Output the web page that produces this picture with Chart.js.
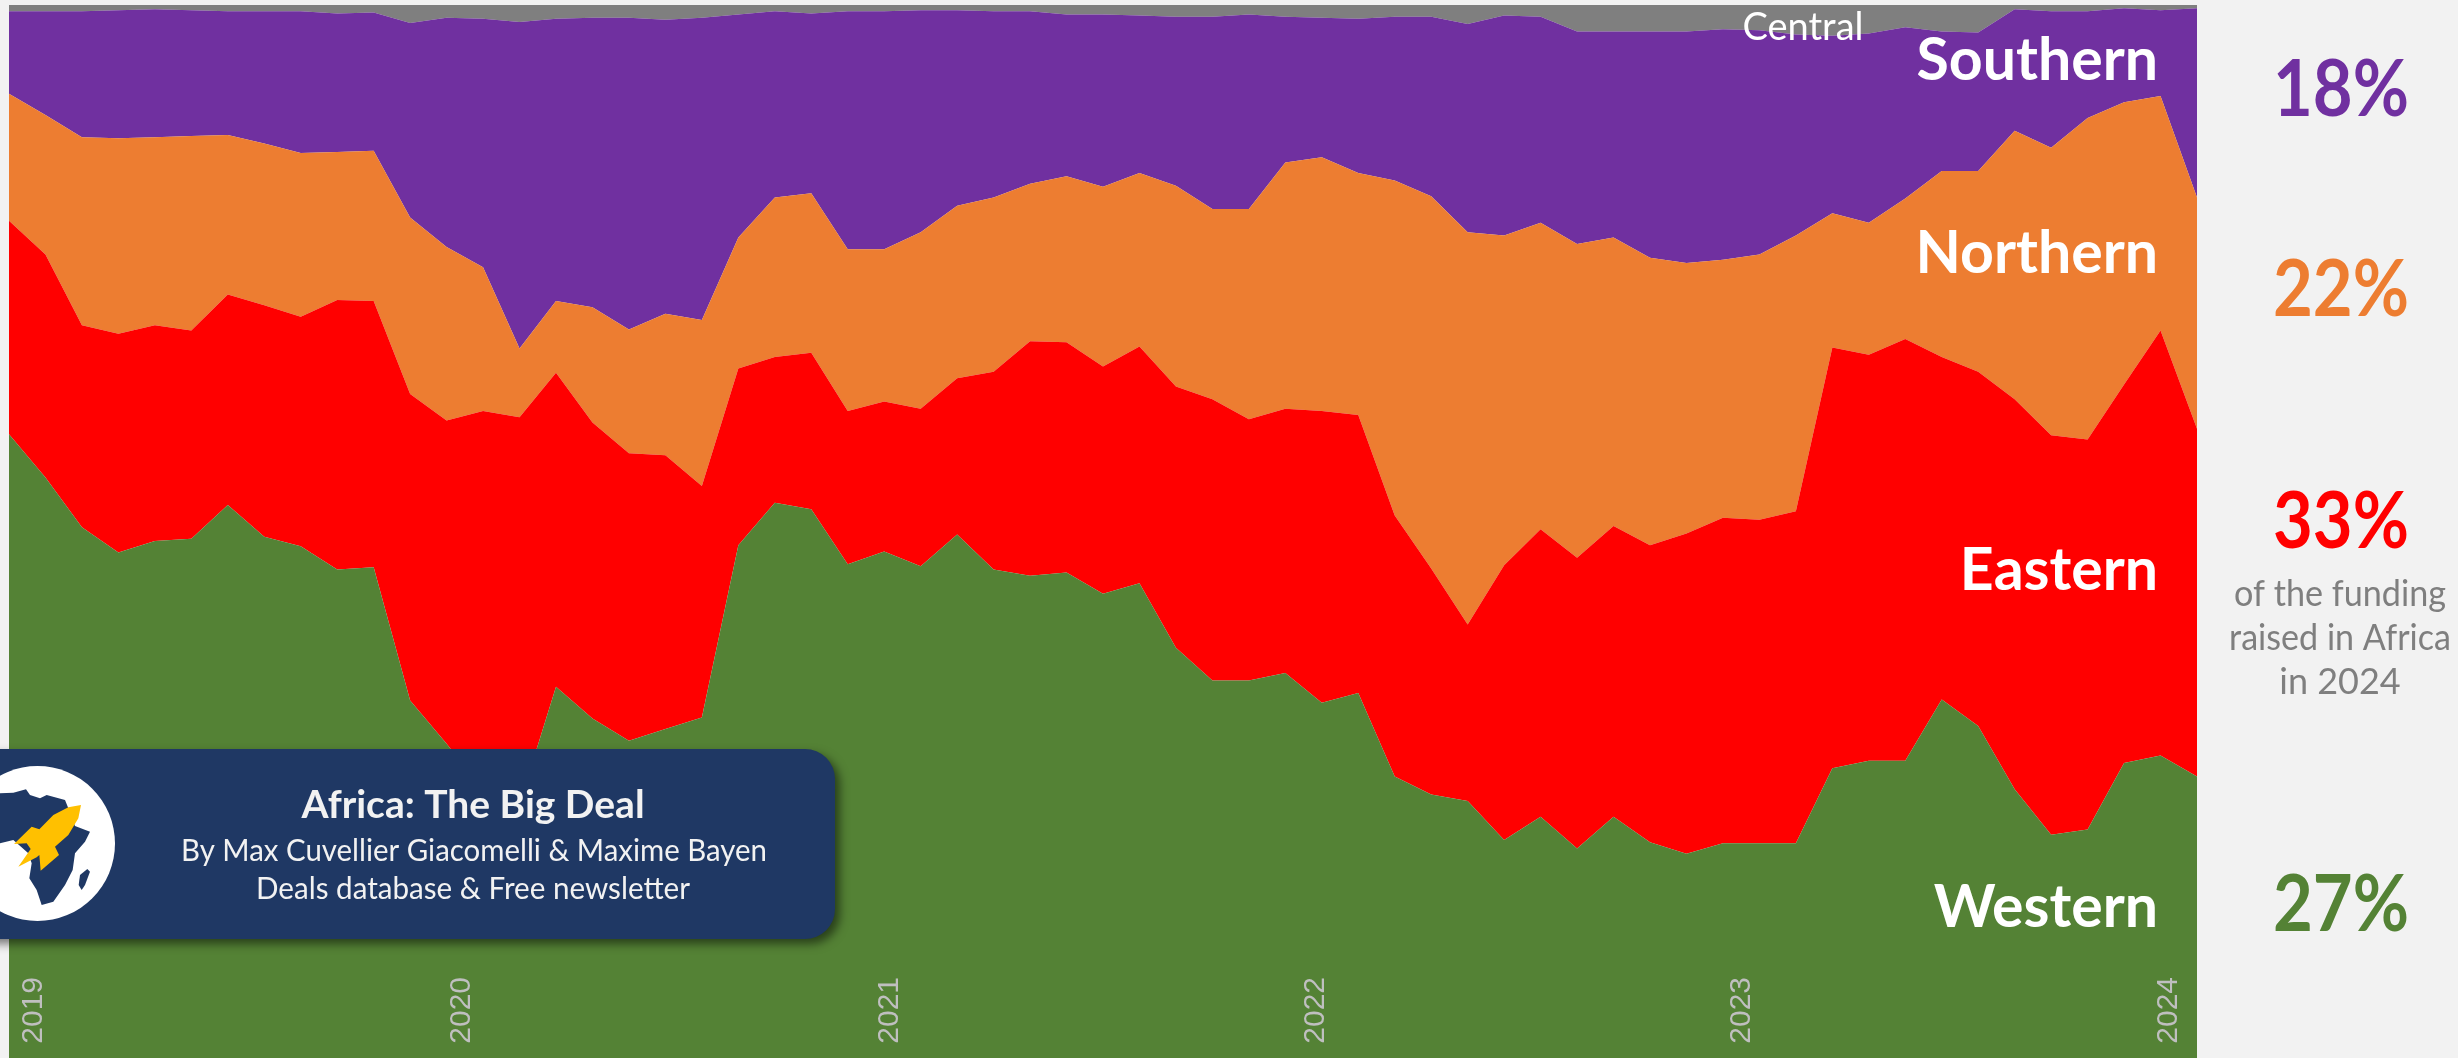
<!DOCTYPE html>
<html>
<head>
<meta charset="utf-8">
<title>Africa: The Big Deal</title>
<script src="https://cdn.jsdelivr.net/npm/chart.js@4"></script>
<style>
  html, body { margin: 0; padding: 0; background: #F2F2F2; overflow: hidden; }
  canvas { display: block; }
</style>
</head>
<body>
<canvas id="chart" width="2458" height="1058"></canvas>
<script>
// months from Jan 2019 to Jan 2024
const months = [
  '2019-01','2019-02','2019-03','2019-04','2019-05','2019-06','2019-07','2019-08','2019-09','2019-10','2019-11','2019-12',
  '2020-01','2020-02','2020-03','2020-04','2020-05','2020-06','2020-07','2020-08','2020-09','2020-10','2020-11','2020-12',
  '2021-01','2021-02','2021-03','2021-04','2021-05','2021-06','2021-07','2021-08','2021-09','2021-10','2021-11','2021-12',
  '2022-01','2022-02','2022-03','2022-04','2022-05','2022-06','2022-07','2022-08','2022-09','2022-10','2022-11','2022-12',
  '2023-01','2023-02','2023-03','2023-04','2023-05','2023-06','2023-07','2023-08','2023-09','2023-10','2023-11','2023-12',
  '2024-01'
];

// share of funding per region, %
const western = [59.4,55.3,50.6,48.2,49.3,49.5,52.7,49.7,48.8,46.6,46.8,34.2,30.1,25.7,24.4,35.5,32.5,30.4,31.5,32.6,48.9,52.9,52.3,47.1,48.3,46.9,49.9,46.6,46.0,46.3,44.3,45.3,39.2,36.1,36.1,36.8,34.0,34.9,27.0,25.3,24.7,21.0,23.2,20.2,23.2,20.8,19.7,20.7,20.7,20.7,27.8,28.5,28.5,34.3,31.8,25.8,21.5,22.0,28.3,29.0,27.0];
const eastern = [20.2,21.1,19.1,20.7,20.4,19.7,19.9,21.9,21.7,25.5,25.2,29.0,30.6,35.9,36.6,29.7,28.0,27.2,25.9,21.9,16.7,13.8,14.8,14.5,14.2,14.9,14.8,18.7,22.2,21.8,21.5,22.4,24.7,26.6,24.7,25.0,27.6,26.3,24.7,21.4,16.7,26.0,27.2,27.5,27.5,28.1,30.3,30.8,30.6,31.4,39.8,38.4,39.9,32.4,33.5,36.9,37.8,36.9,35.8,40.2,32.9];
const northern = [12.0,13.2,17.8,18.5,17.8,18.4,15.1,15.3,15.5,14.0,14.2,16.7,16.4,13.6,6.5,6.8,10.9,11.7,13.4,15.7,12.4,15.1,15.1,15.3,14.4,16.7,16.3,16.5,14.9,15.7,17.0,16.4,19.0,18.0,19.9,23.3,24.0,22.9,31.7,35.2,37.1,31.2,29.0,29.7,27.3,27.2,25.6,24.4,25.1,26.1,12.7,12.5,13.3,17.6,19.0,25.4,27.2,30.4,26.7,22.2,21.9];
const southern = [7.8,9.8,11.9,12.1,12.1,11.9,11.7,12.5,13.4,13.1,13.1,18.4,21.7,23.5,30.9,26.7,27.4,29.5,27.8,28.6,21.1,17.6,17.0,22.5,22.5,21.0,18.5,17.6,16.3,15.3,16.3,14.9,16.0,18.2,18.4,13.8,13.2,14.6,15.5,17.0,19.7,20.8,19.5,20.1,19.5,21.4,21.9,21.8,21.2,19.0,16.8,17.9,16.2,13.2,13.1,11.5,12.9,10.1,8.9,8.1,17.9];
const central = [0.8,0.8,0.8,0.6,0.6,0.8,0.8,0.8,0.8,1.0,1.0,1.7,1.5,1.5,1.7,1.5,1.3,1.3,1.5,1.3,1.1,0.8,1.0,0.8,0.8,0.8,0.8,0.8,0.8,1.1,1.1,1.1,1.3,1.3,1.1,1.3,1.3,1.5,1.3,1.3,2.1,1.1,1.3,2.7,2.7,2.7,2.7,2.5,2.7,2.9,3.0,2.9,2.3,2.7,2.8,0.6,0.8,0.8,0.6,0.6,0.6];

const yearLabels = ['2019','2020','2021','2022','2023','2024'];
const yearTickPos = [0.69,12.42,24.16,35.84,47.52,59.23];

const regionNames = ['Western','Eastern','Northern','Southern','Central'];
const regionColors = ['#548235','#FF0000','#ED7D31','#7030A0','#7F7F7F'];
const shareLabels = ['27%','33%','22%','18%'];
const noteLines = ['of the funding','raised in Africa','in 2024'];
const bannerLines = ['Africa: The Big Deal','By Max Cuvellier Giacomelli & Maxime Bayen','Deals database & Free newsletter'];

const africaShape = [[0,130],[40,128],[78,118],[90,135],[120,145],[140,135],[195,150],[205,175],[225,228],[270,245],[255,275],[225,310],[218,360],[195,405],[160,455],[125,465],[110,420],[88,385],[95,340],[85,310],[40,270],[0,280]];
const madagascarShape = [[262,357],[270,365],[255,405],[245,420],[236,405],[240,375]];
const rocketShape = [[243,165],[205,172],[160,195],[118,238],[95,230],[42,282],[80,280],[92,297],[55,350],[110,322],[118,315],[122,362],[177,315],[165,290],[205,255],[235,205]];

function drawText(ctx, text, x, y, font, color, align, maxWidth) {
  ctx.font = font;
  ctx.fillStyle = color;
  ctx.textAlign = align;
  ctx.textBaseline = 'alphabetic';
  ctx.fillText(text, x, y, maxWidth);
}

function fillShape(ctx, pts, color) {
  ctx.beginPath();
  pts.forEach((p, i) => {
    const x = p[0] / 3, y = 750 + p[1] / 3;
    if (i === 0) ctx.moveTo(x, y); else ctx.lineTo(x, y);
  });
  ctx.closePath();
  ctx.fillStyle = color;
  ctx.fill();
}

// region names, share column and the banner sit on top of the areas
const annotations = {
  id: 'annotations',
  afterDraw(chart) {
    const ctx = chart.ctx;
    ctx.save();

    const bold = 'bold 59px Lato';
    drawText(ctx, regionNames[3], 2158, 80, bold, '#FFFFFF', 'right');
    drawText(ctx, regionNames[2], 2158, 273, bold, '#FFFFFF', 'right');
    drawText(ctx, regionNames[1], 2158, 590, bold, '#FFFFFF', 'right');
    drawText(ctx, regionNames[0], 2158, 927, bold, '#FFFFFF', 'right');
    drawText(ctx, regionNames[4], 1803, 40, '38px Lato', '#FFFFFF', 'center');

    const big = 'bold 78px Lato';
    drawText(ctx, shareLabels[3], 2341, 116, big, regionColors[3], 'center', 136);
    drawText(ctx, shareLabels[2], 2341, 316, big, regionColors[2], 'center', 136);
    drawText(ctx, shareLabels[1], 2341, 548, big, regionColors[1], 'center', 136);
    drawText(ctx, shareLabels[0], 2341, 931, big, regionColors[0], 'center', 136);

    const note = '36px Lato';
    drawText(ctx, noteLines[0], 2340, 606, note, '#7F7F7F', 'center', 212);
    drawText(ctx, noteLines[1], 2340, 650, note, '#7F7F7F', 'center', 222);
    drawText(ctx, noteLines[2], 2340, 694, note, '#7F7F7F', 'center');

    // banner
    ctx.save();
    ctx.shadowColor = 'rgba(0,0,0,0.5)';
    ctx.shadowBlur = 10;
    ctx.shadowOffsetX = 5;
    ctx.shadowOffsetY = 5;
    ctx.fillStyle = '#1F3864';
    ctx.beginPath();
    ctx.roundRect(-40, 749, 875, 190, 30);
    ctx.fill();
    ctx.restore();

    ctx.fillStyle = '#FFFFFF';
    ctx.beginPath();
    ctx.arc(37.5, 843.5, 77.5, 0, Math.PI * 2);
    ctx.fill();
    fillShape(ctx, africaShape, '#1F3864');
    fillShape(ctx, madagascarShape, '#1F3864');
    fillShape(ctx, rocketShape, '#FFC000');

    drawText(ctx, bannerLines[0], 473, 818, 'bold 39px Lato', '#F2F2F2', 'center', 344);
    drawText(ctx, bannerLines[1], 474, 861, '30px Lato', '#F2F2F2', 'center', 586);
    drawText(ctx, bannerLines[2], 473, 899, '30px Lato', '#F2F2F2', 'center', 434);

    ctx.restore();
  }
};

const seriesValues = [western, eastern, northern, southern, central];

new Chart(document.getElementById('chart'), {
  type: 'line',
  data: {
    labels: months,
    datasets: seriesValues.map((values, i) => ({
      label: regionNames[i],
      data: values,
      backgroundColor: regionColors[i],
      borderWidth: 0,
      pointRadius: 0,
      tension: 0,
      fill: i === 0 ? 'origin' : '-1'
    }))
  },
  options: {
    responsive: false,
    animation: false,
    layout: { padding: { left: 9, top: 5, right: 261, bottom: 0 } },
    plugins: { legend: { display: false }, tooltip: { enabled: false } },
    scales: {
      x: { display: false },
      y: { display: false, stacked: true, min: 0.38, max: 100 },
      years: {
        type: 'linear',
        axis: 'x',
        position: 'bottom',
        min: 0,
        max: 60,
        grid: { display: false, drawTicks: false },
        border: { display: false },
        afterBuildTicks: scale => { scale.ticks = yearTickPos.map(value => ({ value })); },
        afterFit: scale => {
          // labels sit inside the plot, so the axis must take no room at all
          scale.height = 0;
          scale.paddingLeft = 0;
          scale.paddingRight = 0;
          scale.paddingTop = 0;
          scale.paddingBottom = 0;
        },
        ticks: {
          // mirror keeps the labels from being clipped to the zero-height axis box
          mirror: true,
          z: 1,
          autoSkip: false,
          minRotation: 90,
          maxRotation: 90,
          padding: 81,
          color: '#BFBFBF',
          // lineHeight 0: a mirrored rotated label is otherwise pushed left by one line
          font: { family: 'Liberation Sans', size: 30, lineHeight: 0 },
          callback: (value, index) => yearLabels[index]
        }
      }
    }
  },
  plugins: [annotations]
});
</script>
</body>
</html>
